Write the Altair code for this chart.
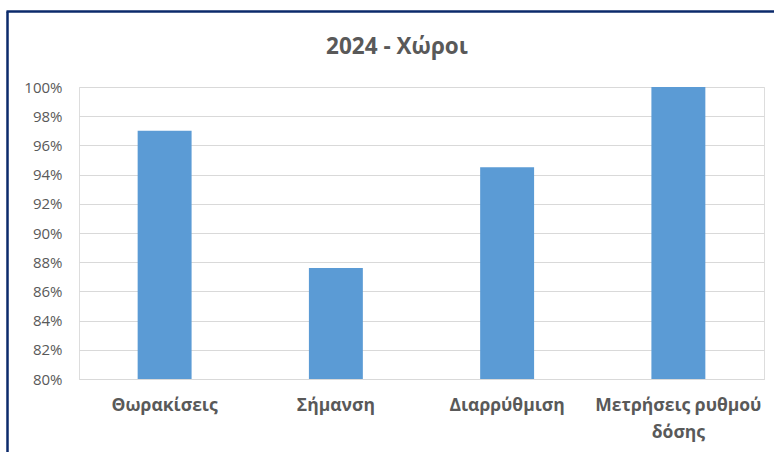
import altair as alt
import pandas as pd

categories = ["Θωρακίσεις", "Σήμανση", "Διαρρύθμιση", "Μετρήσεις ρυθμού δόσης"]
values = [0.970, 0.876, 0.945, 1.000]
y_ticks = [0.80, 0.82, 0.84, 0.86, 0.88, 0.90, 0.92, 0.94, 0.96, 0.98, 1.00]
title_text = ["2024 - Χώροι"]

df = pd.DataFrame({"cat": categories, "val": values})

FONT = "Open Sans"
GRAY = "#595959"

bars = alt.Chart(df).mark_bar(color="#5B9BD5").encode(
    x=alt.X(
        "cat:N",
        sort=categories,
        title=None,
        scale=alt.Scale(paddingInner=0.685, paddingOuter=0.3425),
        axis=alt.Axis(
            labelExpr="length(datum.value) > 20 ? ['Μετρήσεις ρυθμού', 'δόσης'] : datum.value",
            labelAngle=0,
            labelFont=FONT,
            labelFontSize=17.5,
            labelFontWeight="bold",
            labelColor=GRAY,
            labelPadding=17,
            labelLineHeight=27,
            ticks=False,
            domain=True,
            domainColor="#d9d9d9",
            domainWidth=1,
            grid=False,
        ),
    ),
    y=alt.Y(
        "val:Q",
        title=None,
        scale=alt.Scale(domain=[0.8, 1.0], nice=False, zero=False),
        axis=alt.Axis(
            values=y_ticks,
            format=".0%",
            labelFont=FONT,
            labelFontSize=15,
            labelColor=GRAY,
            labelPadding=17,
            ticks=False,
            domain=False,
            grid=True,
            gridColor="#d9d9d9",
            gridWidth=1.2,
        ),
    ),
    y2=alt.datum(0.8),
)

title = alt.Chart(alt.Data(values=[{"t": t} for t in title_text])).mark_text(
    font=FONT, fontSize=22.5, fontWeight="bold", color=GRAY, baseline="middle", align="center"
).encode(text="t:N", x=alt.value(318), y=alt.value(-40))

border_data = alt.Data(values=[{"k": 1}])
left_border = alt.Chart(border_data).mark_rule(color="#0b2a6b", strokeWidth=2.5).encode(
    x=alt.value(-71.5), y=alt.value(-75.5), y2=alt.value(380)
)
top_border = alt.Chart(border_data).mark_rule(color="#0b2a6b", strokeWidth=2.5).encode(
    x=alt.value(-72.5), x2=alt.value(710), y=alt.value(-75.5)
)

chart = alt.layer(bars, title, left_border, top_border).properties(
    width=685,
    height=292,
    autosize=alt.AutoSizeParams(type="none"),
    padding={"left": 79, "top": 87, "right": 10, "bottom": 73},
).configure_view(stroke=None).configure(background="white")

chart.save("out.html", embed_options={"renderer": "svg", "actions": False})
